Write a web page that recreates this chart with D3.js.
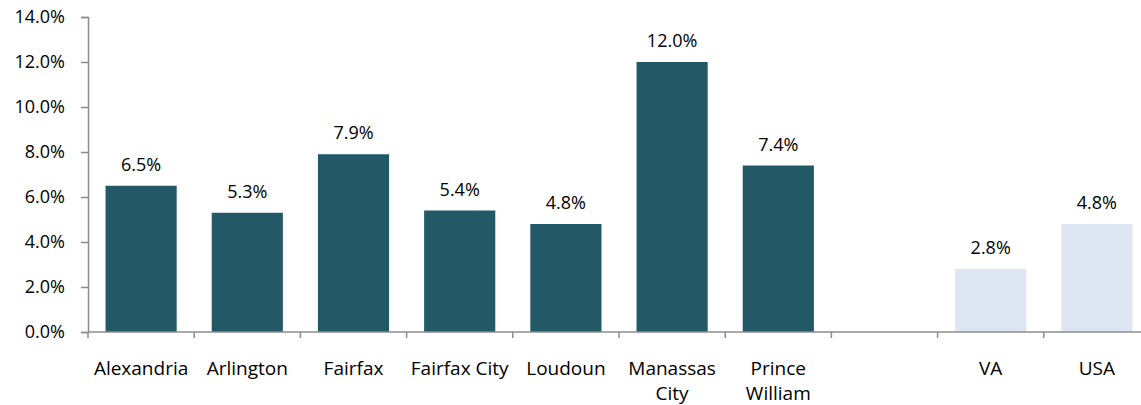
<!DOCTYPE html>
<html>
<head>
<meta charset="utf-8">
<script src="https://cdn.jsdelivr.net/npm/d3@7"></script>
<style>
  html, body { margin: 0; padding: 0; background: #fff; overflow: hidden; }
  svg { display: block; }
  text { font-family: "Open Sans", sans-serif; fill: #000; }
</style>
</head>
<body>
<svg id="chart" width="1141" height="405"></svg>
<script>
// Categories (a blank slot separates the counties from the state/nation comparison)
const categories = ["Alexandria", "Arlington", "Fairfax", "Fairfax City", "Loudoun",
                    "Manassas City", "Prince William", "", "VA", "USA"];
// Growth rate, percent
const values = [6.5, 5.3, 7.9, 5.4, 4.8, 12.0, 7.4, null, 2.8, 4.8];
// Which bars are benchmarks (drawn in the lighter colour)
const isBenchmark = [false, false, false, false, false, false, false, false, true, true];
// Two-line wrapping of long category labels
const labelLines = [["Alexandria"], ["Arlington"], ["Fairfax"], ["Fairfax City"], ["Loudoun"],
                    ["Manassas", "City"], ["Prince", "William"], [""], ["VA"], ["USA"]];
const yTicks = [0, 2, 4, 6, 8, 10, 12, 14];

const svg = d3.select("#chart");
const margin = { left: 88, top: 17, bottom: 73 };
const plotRight = 1150; // plot area runs slightly past the window edge
const width = 1141, height = 405;
const y0 = height - margin.bottom; // 332

const x = d3.scaleBand()
  .domain(d3.range(categories.length))
  .range([margin.left, plotRight])
  .paddingInner(0.33)
  .paddingOuter(0.165);

const y = d3.scaleLinear().domain([0, 14]).range([y0, margin.top]);

const axisColor = "#8c8c8c";
const numberSize = 18;
const labelSize = 19;

// Bars
svg.append("g").selectAll("rect")
  .data(values.map((v, i) => ({ v, i })).filter(d => d.v !== null))
  .join("rect")
  .attr("x", d => x(d.i))
  .attr("width", x.bandwidth())
  .attr("y", d => y(d.v))
  .attr("height", d => y(0) - y(d.v))
  .attr("fill", d => isBenchmark[d.i] ? "#dfe6f3" : "#235866");

// Value labels
svg.append("g").selectAll("text")
  .data(values.map((v, i) => ({ v, i })).filter(d => d.v !== null))
  .join("text")
  .attr("x", d => x(d.i) + x.bandwidth() / 2)
  .attr("y", d => y(d.v) - 15)
  .attr("text-anchor", "middle")
  .attr("font-size", numberSize)
  .text(d => d.v.toFixed(1) + "%");

// Y axis
const yAxis = d3.axisLeft(y)
  .tickValues(yTicks)
  .tickSize(7)
  .tickPadding(16)
  .tickFormat(d => d.toFixed(1) + "%");
const gy = svg.append("g")
  .attr("transform", `translate(${margin.left},0)`)
  .call(yAxis);
gy.select(".domain").attr("stroke", axisColor).attr("stroke-width", 1.5);
gy.selectAll(".tick line").attr("stroke", axisColor).attr("stroke-width", 1.5);
gy.selectAll(".tick text")
  .attr("font-size", numberSize)
  .attr("font-family", "'Open Sans', sans-serif")
  .attr("fill", "#000");

// X axis: baseline with tick marks at the band boundaries
const step = x.step();
const boundaries = d3.range(categories.length + 1).map(i => margin.left + i * step);
svg.append("line")
  .attr("x1", margin.left).attr("x2", plotRight)
  .attr("y1", y(0)).attr("y2", y(0))
  .attr("stroke", axisColor).attr("stroke-width", 1.5);
svg.append("g").selectAll("line")
  .data(boundaries)
  .join("line")
  .attr("x1", d => d).attr("x2", d => d)
  .attr("y1", y(0)).attr("y2", y(0) + 6)
  .attr("stroke", axisColor).attr("stroke-width", 1.5);

// Category labels
const cat = svg.append("g").selectAll("text")
  .data(labelLines.map((lines, i) => ({ lines, i })))
  .join("text")
  .attr("text-anchor", "middle")
  .attr("font-size", labelSize)
  .attr("x", d => x(d.i) + x.bandwidth() / 2)
  .attr("y", 375);
cat.selectAll("tspan")
  .data(d => d.lines.map((t, k) => ({ t, k, cx: x(d.i) + x.bandwidth() / 2 })))
  .join("tspan")
  .attr("x", d => d.cx)
  .attr("dy", d => d.k === 0 ? 0 : 25)
  .text(d => d.t);
</script>
</body>
</html>
